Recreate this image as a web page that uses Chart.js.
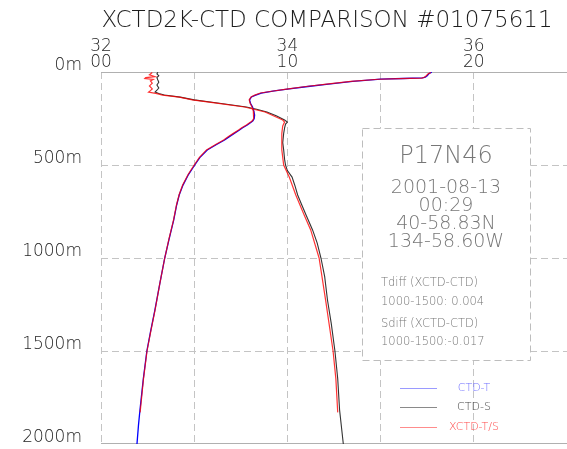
<!DOCTYPE html>
<html><head><meta charset="utf-8">
<script src="https://cdn.jsdelivr.net/npm/chart.js@4/dist/chart.umd.min.js"></script>
<style>html,body{margin:0;padding:0;background:#fff;overflow:hidden}#wrap{width:567px;height:449px;position:relative}</style>
</head><body><div id="wrap"><canvas id="c"></canvas></div>
<script>
// ---- texts & ticks ----
const titleText = 'XCTD2K-CTD COMPARISON #01075611';
const tempTickValues = [0, 10, 20];
const tempTickLabels = ['00', '10', '20'];
const salTickLabels = ['32', '34', '36'];
const depthTicks = [0, 500, 1000, 1500, 2000];
const stationName = 'P17N46';
const stationLines = ['2001-08-13', '00:29', '40-58.83N', '134-58.60W'];
const diffLines = ['Tdiff (XCTD-CTD)', '1000-1500: 0.004', 'Sdiff (XCTD-CTD)', '1000-1500:-0.017'];
const legendLabels = ['CTD-T', 'CTD-S', 'XCTD-T/S'];

// ---- CTD temperature ----
const ctdTDepth = [1, 8, 20, 28, 32, 35, 38, 50, 65, 78, 91, 102, 113, 124, 134, 150, 168, 188, 210, 231, 250, 262, 269, 285, 300, 312, 330, 350, 366, 390, 419, 460, 500, 550, 608, 660, 715, 796, 900, 1000, 1140, 1280, 1400, 1500, 1650, 1817, 1900, 2000];
const ctdT = [17.75, 17.6, 17.5, 17.4, 17.25, 16.2, 15.0, 13.5, 12.2, 11.1, 10.1, 9.3, 8.6, 8.3, 8.07, 7.97, 8.02, 8.13, 8.2, 8.24, 8.22, 8.15, 8.07, 7.85, 7.6, 7.43, 7.15, 6.85, 6.63, 6.2, 5.7, 5.3, 5.03, 4.7, 4.4, 4.2, 4.06, 3.9, 3.65, 3.42, 3.15, 2.89, 2.65, 2.46, 2.27, 2.09, 2.01, 1.93];
// ---- XCTD temperature ----
const xctdTDepth = [3, 10, 20, 28, 33, 36, 39, 50, 65, 78, 91, 102, 113, 124, 134, 150, 168, 188, 210, 231, 250, 262, 269, 285, 300, 312, 330, 350, 366, 390, 419, 460, 500, 550, 608, 660, 715, 796, 900, 1000, 1140, 1280, 1400, 1500, 1650, 1830];
const xctdT = [17.7, 17.55, 17.45, 17.35, 17.2, 16.0, 14.9, 13.4, 12.1, 11.0, 10.05, 9.25, 8.55, 8.25, 8.05, 7.95, 8.0, 8.1, 8.17, 8.2, 8.18, 8.12, 8.03, 7.8, 7.55, 7.38, 7.1, 6.8, 6.58, 6.15, 5.66, 5.27, 5.0, 4.68, 4.38, 4.19, 4.05, 3.89, 3.64, 3.42, 3.15, 2.9, 2.66, 2.47, 2.28, 2.1];

// ---- CTD salinity ----
const ctdSDepth = [1, 10, 20, 30, 43, 55, 70, 86, 98, 108, 116, 124, 135, 150, 167, 188, 200, 215, 235, 258, 269, 280, 300, 330, 380, 419, 470, 500, 530, 565, 610, 661, 710, 769, 849, 920, 1000, 1100, 1226, 1350, 1500, 1650, 1817, 2000];
const ctdS = [32.61, 32.60, 32.62, 32.60, 32.61, 32.62, 32.60, 32.62, 32.60, 32.58, 32.62, 32.68, 32.85, 33.0, 33.25, 33.56, 33.67, 33.78, 33.88, 33.97, 34.0, 33.98, 33.97, 33.96, 33.95, 33.96, 33.97, 33.98, 34.0, 34.05, 34.08, 34.11, 34.15, 34.20, 34.27, 34.32, 34.36, 34.40, 34.43, 34.47, 34.51, 34.54, 34.56, 34.60];
// ---- XCTD salinity ----
const xctdSDepth = [3, 15, 25, 30, 35, 40, 48, 60, 75, 91, 100, 108, 116, 124, 135, 150, 167, 188, 215, 258, 269, 290, 330, 419, 500, 565, 661, 769, 849, 1000, 1226, 1500, 1650, 1830];
const xctdS = [32.55, 32.52, 32.58, 32.48, 32.47, 32.56, 32.53, 32.55, 32.52, 32.55, 32.53, 32.51, 32.60, 32.66, 32.84, 32.98, 33.24, 33.54, 33.76, 33.95, 33.97, 33.95, 33.94, 33.94, 33.96, 34.02, 34.09, 34.18, 34.25, 34.34, 34.41, 34.49, 34.52, 34.54];

const pts = (dep, val) => dep.map((d, i) => ({x: val[i], y: d}));
const FONT = "'DejaVu Sans', sans-serif";
const LIGHT = '300 ';

const legendColors = ['#9a9aff', '#8a8a8a', '#ff8c8c'];
const legendTextColors = ['#6f6fff', '#444', '#ff4a4a'];

const overlay = {
  id: 'overlay',
  beforeDatasetsDraw(chart) {
    const ctx = chart.ctx, a = chart.chartArea;
    ctx.save();
    // info box
    ctx.fillStyle = '#fff';
    ctx.fillRect(362.5, 128.5, 168, 232);
    ctx.setLineDash([7, 4]);
    ctx.strokeStyle = '#bdbdbd';
    ctx.lineWidth = 1;
    ctx.strokeRect(362.5, 128.5, 168, 232);
    ctx.setLineDash([]);
    ctx.fillStyle = '#777';
    ctx.textAlign = 'center';
    ctx.textBaseline = 'middle';
    ctx.font = LIGHT + '24px ' + FONT;
    ctx.fillText(stationName, 446, 157);
    ctx.font = LIGHT + '19px ' + FONT;
    const ys = [188, 206, 224, 242];
    stationLines.forEach((t, i) => ctx.fillText(t, 446, ys[i]));
    ctx.textAlign = 'left';
    ctx.font = LIGHT + '11.5px ' + FONT;
    const dys = [283, 302, 324, 342];
    diffLines.forEach((t, i) => ctx.fillText(t, 381, dys[i]));
    // top & bottom solid borders
    ctx.strokeStyle = '#b0b0b0';
    ctx.beginPath();
    ctx.moveTo(a.left, a.top + 0.5); ctx.lineTo(a.right, a.top + 0.5);
    ctx.moveTo(a.left, a.bottom - 0.5); ctx.lineTo(a.right, a.bottom - 0.5);
    ctx.stroke();
    ctx.restore();
  },
  afterDraw(chart) {
    const ctx = chart.ctx;
    ctx.save();
    ctx.fillStyle = '#1e1e1e';
    ctx.textAlign = 'center';
    ctx.textBaseline = 'middle';
    ctx.font = LIGHT + '23px ' + FONT;
    ctx.fillText(titleText, 327, 21);
    // legend
    const ly = [388, 407, 427];
    ctx.font = LIGHT + '11px ' + FONT;
    legendLabels.forEach((t, i) => {
      ctx.strokeStyle = legendColors[i];
      ctx.lineWidth = 1;
      ctx.beginPath();
      ctx.moveTo(400, ly[i] + 0.5); ctx.lineTo(437, ly[i] + 0.5);
      ctx.stroke();
      ctx.fillStyle = legendTextColors[i];
      ctx.fillText(t, 474, ly[i]);
    });
    ctx.restore();
  }
};

new Chart(document.getElementById('c'), {
  type: 'scatter',
  data: {
    datasets: [
      {label: 'XCTD-T', data: pts(xctdTDepth, xctdT), xAxisID: 'x', borderColor: 'rgba(255,0,0,0.8)', borderWidth: 1.2, order: 0},
      {label: 'XCTD-S', data: pts(xctdSDepth, xctdS), xAxisID: 'xs', borderColor: 'rgba(255,0,0,0.8)', borderWidth: 1.2, order: 0},
      {label: 'CTD-T', data: pts(ctdTDepth, ctdT), xAxisID: 'x', borderColor: '#0000ff', borderWidth: 1.3, order: 1},
      {label: 'CTD-S', data: pts(ctdSDepth, ctdS), xAxisID: 'xs', borderColor: '#333333', borderWidth: 1.1, order: 1}
    ].map(d => Object.assign(d, {showLine: true, pointRadius: 0, fill: false, tension: 0}))
  },
  options: {
    responsive: true,
    maintainAspectRatio: false,
    animation: false,
    events: [],
    layout: {padding: {top: 0, left: 0, right: 0, bottom: 5}},
    plugins: {legend: {display: false}, title: {display: false}, tooltip: {enabled: false}},
    scales: {
      x: {
        type: 'linear', position: 'top', min: 0, max: 25,
        ticks: {
          stepSize: 5, padding: 1, color: '#1e1e1e', maxRotation: 0, autoSkip: false,
          font: {family: FONT, size: 17, weight: 300, lineHeight: 0.95},
          callback: (v) => { const i = tempTickValues.indexOf(v); return i >= 0 ? [salTickLabels[i], tempTickLabels[i]] : ''; }
        },
        grid: {drawTicks: false, lineWidth: 1, color: (c) => (c.tick && c.tick.value === 25) ? 'rgba(0,0,0,0)' : '#c4c4c4'},
        border: {display: false, dash: [7, 4]},
        afterFit: (s) => { s.height = 72; s.paddingLeft = 0; s.paddingRight = 0; }
      },
      xs: {type: 'linear', position: 'top', min: 32, max: 37, display: false},
      y: {
        type: 'linear', reverse: true, min: 0, max: 2000,
        afterBuildTicks: (s) => { s.ticks = depthTicks.map(v => ({value: v})); },
        ticks: {padding: 19, labelOffset: -6, color: '#1e1e1e', font: {family: FONT, size: 17, weight: 300}, callback: (v) => v + 'm'},
        grid: {drawTicks: false, lineWidth: 1, color: (c) => (c.tick && (c.tick.value === 0 || c.tick.value === 2000)) ? 'rgba(0,0,0,0)' : '#c4c4c4'},
        border: {display: false, dash: [7, 4]},
        afterFit: (s) => { s.width = 101; s.paddingTop = 0; s.paddingBottom = 0; }
      }
    }
  },
  plugins: [overlay]
});
</script>
</body></html>
